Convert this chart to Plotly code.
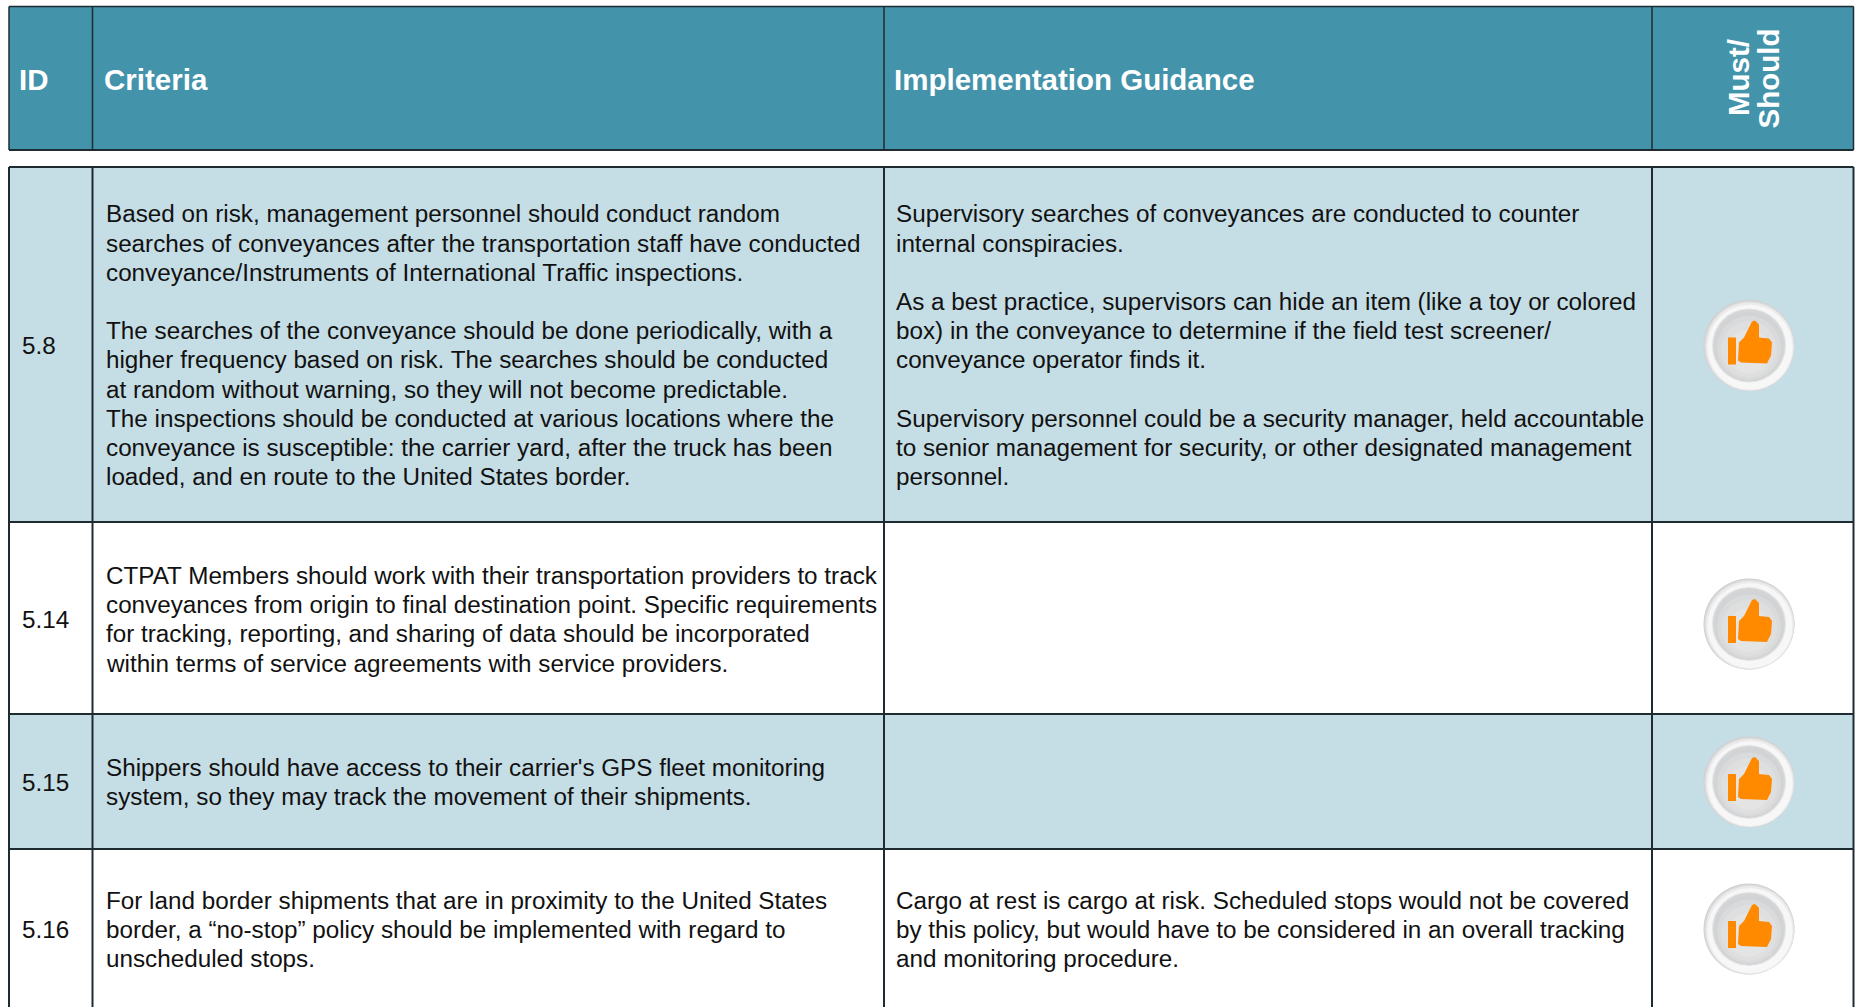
import plotly.graph_objects as go

ids = ["5.8", "5.14", "5.15", "5.16"]
headers = ["ID", "Criteria", "Implementation Guidance"]
must_should = ["Must/", "Should"]
criteria = [
    ["Based on risk, management personnel should conduct random",
     "searches of conveyances after the transportation staff have conducted",
     "conveyance/Instruments of International Traffic inspections.",
     "",
     "The searches of the conveyance should be done periodically, with a",
     "higher frequency based on risk. The searches should be conducted",
     "at random without warning, so they will not become predictable.",
     "The inspections should be conducted at various locations where the",
     "conveyance is susceptible: the carrier yard, after the truck has been",
     "loaded, and en route to the United States border."],
    ["CTPAT Members should work with their transportation providers to track",
     "conveyances from origin to final destination point. Specific requirements",
     "for tracking, reporting, and sharing of data should be incorporated",
     "within terms of service agreements with service providers."],
    ["Shippers should have access to their carrier's GPS fleet monitoring",
     "system, so they may track the movement of their shipments."],
    ["For land border shipments that are in proximity to the United States",
     "border, a \u201cno-stop\u201d policy should be implemented with regard to",
     "unscheduled stops."],
]
guidance = [
    ["Supervisory searches of conveyances are conducted to counter",
     "internal conspiracies.",
     "",
     "As a best practice, supervisors can hide an item (like a toy or colored",
     "box) in the conveyance to determine if the field test screener/",
     "conveyance operator finds it.",
     "",
     "Supervisory personnel could be a security manager, held accountable",
     "to senior management for security, or other designated management",
     "personnel."],
    [],
    [],
    ["Cargo at rest is cargo at risk. Scheduled stops would not be covered",
     "by this policy, but would have to be considered in an overall tracking",
     "and monitoring procedure."],
]

# layout (page pixels)
W, H = 1856, 1007
FONT = "Liberation Sans"
HEAD_BG, LIGHT_BG, LINE = "#4393AB", "#C5DDE5", "#1E2B30"
COLS = [9, 92.5, 884, 1652, 1853.5]
HEAD_Y = (6.5, 150)
ROWS = [167, 522, 714, 849, 1020]
ROW_FILL = [LIGHT_BG, "#FFFFFF", LIGHT_BG, "#FFFFFF"]
FIRST_Y = [213.8, 575.5, 767.5, 900.5]
ID_Y = [345.5, 619.5, 782, 929.5]
THUMB_Y = [345.5, 624, 782, 929]
THUMB_X = 1749
PITCH = 29.2
SIZE = 24.25

shapes, ann = [], []

def rect(x0, y0, x1, y1, fill):
    shapes.append(dict(type="rect", x0=x0, y0=y0, x1=x1, y1=y1, fillcolor=fill, line_width=0, layer="below"))

def vline(x, y0, y1, w=2):
    shapes.append(dict(type="line", x0=x, x1=x, y0=y0, y1=y1, line=dict(color=LINE, width=w)))

def hline(y, x0, x1, w=2):
    shapes.append(dict(type="line", x0=x0, x1=x1, y0=y, y1=y, line=dict(color=LINE, width=w)))

def text(x, y, s, size=SIZE, color="#111111", bold=False, angle=0, xanchor="left"):
    ann.append(dict(x=x, y=y, text=f"<b>{s}</b>" if bold else s, showarrow=False, xanchor=xanchor,
                    yanchor="middle", textangle=angle, borderpad=0, borderwidth=0,
                    font=dict(family=FONT, size=size, color=color)))

rect(COLS[0], HEAD_Y[0], COLS[-1], HEAD_Y[1], HEAD_BG)
for x in COLS:
    vline(x, HEAD_Y[0], HEAD_Y[1], 1.5)
hline(HEAD_Y[0], COLS[0], COLS[-1], 1.5)
hline(HEAD_Y[1], COLS[0], COLS[-1], 2)
for i, h in zip([19, 103.5, 894], headers):
    text(i, 79.5, h, size=29.5, color="#FFFFFF", bold=True)
text(1738.5, 77.5, must_should[0], size=29.5, color="#FFFFFF", bold=True, angle=-90, xanchor="center")
text(1767.5, 79, must_should[1], size=29.5, color="#FFFFFF", bold=True, angle=-90, xanchor="center")

for r in range(4):
    rect(COLS[0], ROWS[r], COLS[-1], ROWS[r + 1], ROW_FILL[r])
    hline(ROWS[r], COLS[0], COLS[-1])
    text(21.5, ID_Y[r], ids[r])
    for k, s in enumerate(criteria[r]):
        if s:
            text(105.5, FIRST_Y[r] + k * PITCH, s)
    for k, s in enumerate(guidance[r]):
        if s:
            text(896, FIRST_Y[r] + k * PITCH, s)
for x in COLS:
    vline(x, ROWS[0], H + 10)

def circle(cx, cy, r, fill):
    shapes.append(dict(type="circle", x0=cx - r, x1=cx + r, y0=cy - r, y1=cy + r, fillcolor=fill, line_width=0))

CUFF = [(-21, -8), (-13, -8), (-13, 19), (-21, 19)]
HAND = [(-10, -3), (-5, -8), (0, -18), (3, -24), (6, -25), (10, -21), (10, -8), (20, -7),
        (23, -3), (22, 10), (18, 18), (-8, 17), (-11, 15)]

def poly(cx, cy, pts, fill):
    d = "M " + " L ".join(f"{cx + a},{cy + b}" for a, b in pts) + " Z"
    shapes.append(dict(type="path", path=d, fillcolor=fill, line_width=0))

# button: light rim shaded from the upper left, soft grey centre
RIM = [(45.5, 0, 0, "#CFCFCF"), (45, 0.4, 0.5, "#DCDCDC"), (44, 0.8, 1, "#EBEBEB"), (42.5, 1, 1.8, "#F7F7F7")]
DISC = [(37, 0, 0, "#E4E4E5"), (36, 0, 0, "#D4D5D6"), (34.5, 0, 1, "#D2D3D5"), (32, 0, 2.5, "#D9DADB"),
        (28, 0, 4, "#DFDFE0"), (22, 0, 6, "#E4E4E4")]
for cy in THUMB_Y:
    cx = THUMB_X
    for r, dx, dy, c in RIM + DISC:
        circle(cx + dx, cy + dy, r, c)
    poly(cx, cy, CUFF, "#FF8A00")
    poly(cx, cy, HAND, "#FF8A00")

fig = go.Figure()
fig.update_layout(
    width=W, height=H, margin=dict(l=0, r=0, t=0, b=0), paper_bgcolor="#FFFFFF", plot_bgcolor="#FFFFFF",
    showlegend=False, shapes=shapes, annotations=ann,
    xaxis=dict(range=[0, W], visible=False, fixedrange=True),
    yaxis=dict(range=[H, 0], visible=False, fixedrange=True),
)
fig.write_html("out.html", config=dict(displayModeBar=False),
               post_script="document.body.style.margin='0';document.body.style.overflow='hidden';")
